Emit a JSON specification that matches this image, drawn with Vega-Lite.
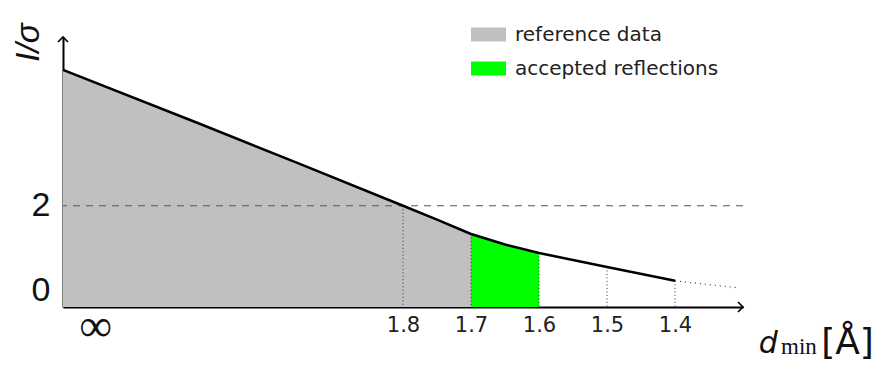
{
  "$schema": "https://vega.github.io/schema/vega-lite/v6.json",
  "width": 680,
  "height": 270,
  "autosize": "none",
  "padding": {"left": 63, "top": 37, "right": 136, "bottom": 58},
  "config": {"view": {"stroke": null}, "font": "DejaVu Sans"},
  "datasets": {
    "curve": [
      {"d": 2.3, "v": 5.22},
      {"d": 2.1, "v": 3.95},
      {"d": 1.95, "v": 2.98},
      {"d": 1.8, "v": 2.0},
      {"d": 1.75, "v": 1.67},
      {"d": 1.7, "v": 1.33},
      {"d": 1.65, "v": 1.08},
      {"d": 1.6, "v": 0.88},
      {"d": 1.5, "v": 0.55},
      {"d": 1.4, "v": 0.22}
    ],
    "fill": [
      {"d": 2.3, "v": 5.22, "series": "reference data"},
      {"d": 2.1, "v": 3.95, "series": "reference data"},
      {"d": 1.95, "v": 2.98, "series": "reference data"},
      {"d": 1.8, "v": 2.0, "series": "reference data"},
      {"d": 1.75, "v": 1.67, "series": "reference data"},
      {"d": 1.7, "v": 1.33, "series": "reference data"},
      {"d": 1.7, "v": 1.33, "series": "accepted reflections"},
      {"d": 1.65, "v": 1.08, "series": "accepted reflections"},
      {"d": 1.6, "v": 0.88, "series": "accepted reflections"}
    ],
    "threshold": [{"v": 2}],
    "tail": [
      {"d": 1.4, "v": 0.22},
      {"d": 1.305, "v": 0.05}
    ],
    "guides": [
      {"d": 1.8, "v": 2.0},
      {"d": 1.7, "v": 1.33},
      {"d": 1.6, "v": 0.88},
      {"d": 1.5, "v": 0.55},
      {"d": 1.4, "v": 0.22}
    ],
    "arrows": [
      {"d": 1.3, "v": -0.4, "angle": 0},
      {"d": 2.3, "v": 6.0, "angle": 270}
    ],
    "infinity": [{"d": 2.252, "v": -1.2, "text": "∞"}],
    "sub": [{"d": 1.244, "v": -1.514, "text": "min"}],
    "dlabel": [{"d": 1.277, "v": -1.49, "text": "d"}],
    "unit": [{"d": 1.185, "v": -1.514, "text": "[Å]"}]
  },
  "layer": [
    {
      "data": {"name": "fill"},
      "mark": {"type": "area", "opacity": 1},
      "encoding": {
        "x": {
          "field": "d", "type": "quantitative",
          "scale": {"domain": [1.3, 2.3], "reverse": true, "nice": false, "zero": false},
          "axis": {
            "values": [1.8, 1.7, 1.6, 1.5, 1.4], "format": ".1f",
            "ticks": false, "grid": false, "domainColor": "black", "domainWidth": 2,
            "labelFontSize": 21, "labelPadding": 7, "labelColor": "#222", "labelFont": "DejaVu Sans",
            "title": null
          }
        },
        "y": {
          "field": "v", "type": "quantitative",
          "scale": {"domain": [-0.4, 6], "nice": false, "zero": false},
          "axis": {
            "values": [0, 2], "ticks": false, "grid": false,
            "domainColor": "black", "domainWidth": 2,
            "labelFontSize": 34, "labelFont": "Liberation Sans", "labelColor": "#111", "labelPadding": 13,
            "title": "I/σ", "titleFontSize": 33, "titleFontStyle": "italic", "titleFontWeight": "normal",
            "titleFont": "Liberation Sans", "titleColor": "#111",
            "titleAngle": 270, "titleX": -35, "titleY": 5, "titleAlign": "center", "titleBaseline": "middle"
          }
        },
        "y2": {"datum": -0.4},
        "color": {
          "field": "series", "type": "nominal",
          "scale": {"domain": ["reference data", "accepted reflections"], "range": ["#c0c0c0", "#00ff00"]},
          "legend": {
            "orient": "none", "legendX": 408, "legendY": -20, "title": null, "padding": 0,
            "symbolType": "M-1,-0.4H1V0.4H-1Z", "symbolSize": 1225, "symbolStrokeWidth": 0, "symbolOpacity": 1,
            "labelFontSize": 20, "labelFont": "DejaVu Sans", "labelColor": "#222", "labelOffset": 9,
            "labelLimit": 0, "rowPadding": 6
          }
        }
      }
    },
    {
      "data": {"name": "threshold"},
      "mark": {"type": "rule", "color": "#555", "strokeDash": [7, 6], "strokeWidth": 1.2},
      "encoding": {"y": {"field": "v", "type": "quantitative"}}
    },
    {
      "data": {"name": "guides"},
      "mark": {"type": "rule", "color": "#333", "strokeDash": [1, 2.5], "strokeWidth": 1},
      "encoding": {
        "x": {"field": "d", "type": "quantitative"},
        "y": {"field": "v", "type": "quantitative"},
        "y2": {"datum": -0.4}
      }
    },
    {
      "data": {"name": "curve"},
      "mark": {"type": "line", "color": "black", "strokeWidth": 2.5},
      "encoding": {
        "x": {"field": "d", "type": "quantitative"},
        "y": {"field": "v", "type": "quantitative"}
      }
    },
    {
      "data": {"name": "tail"},
      "mark": {"type": "line", "color": "#333", "strokeWidth": 1.2, "strokeDash": [1, 4]},
      "encoding": {
        "x": {"field": "d", "type": "quantitative"},
        "y": {"field": "v", "type": "quantitative"}
      }
    },
    {
      "data": {"name": "arrows"},
      "mark": {"type": "point", "shape": "M-1,-1L0,0L-1,1", "filled": false, "stroke": "black", "strokeWidth": 1.6, "size": 100, "opacity": 1},
      "encoding": {
        "x": {"field": "d", "type": "quantitative"},
        "y": {"field": "v", "type": "quantitative"},
        "angle": {"field": "angle", "type": "quantitative", "scale": null}
      }
    },
    {
      "data": {"name": "infinity"},
      "mark": {"type": "text", "font": "Liberation Serif", "fontSize": 46, "baseline": "alphabetic", "align": "center", "color": "#111"},
      "encoding": {
        "x": {"field": "d", "type": "quantitative"},
        "y": {"field": "v", "type": "quantitative"},
        "text": {"field": "text"}
      }
    },
    {
      "data": {"name": "sub"},
      "mark": {"type": "text", "font": "Liberation Serif", "fontSize": 23, "baseline": "alphabetic", "align": "left", "color": "#111"},
      "encoding": {
        "x": {"field": "d", "type": "quantitative"},
        "y": {"field": "v", "type": "quantitative"},
        "text": {"field": "text"}
      }
    },
    {
      "data": {"name": "dlabel"},
      "mark": {"type": "text", "font": "DejaVu Sans", "fontStyle": "italic", "fontSize": 30, "baseline": "alphabetic", "align": "left", "color": "#111"},
      "encoding": {
        "x": {"field": "d", "type": "quantitative"},
        "y": {"field": "v", "type": "quantitative"},
        "text": {"field": "text"}
      }
    },
    {
      "data": {"name": "unit"},
      "mark": {"type": "text", "font": "DejaVu Sans", "fontSize": 36, "baseline": "alphabetic", "align": "left", "color": "#111"},
      "encoding": {
        "x": {"field": "d", "type": "quantitative"},
        "y": {"field": "v", "type": "quantitative"},
        "text": {"field": "text"}
      }
    }
  ]
}
